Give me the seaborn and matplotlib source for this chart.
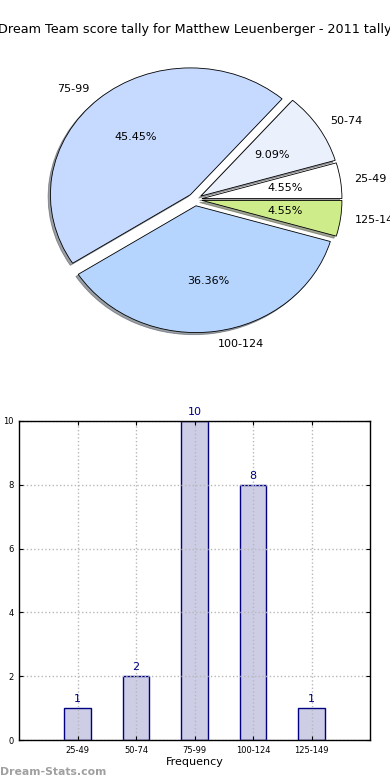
import matplotlib
matplotlib.use("Agg")
import matplotlib.pyplot as plt
import seaborn as sns
import pandas as pd

title = "Dream Team score tally for Matthew Leuenberger - 2011 tally"
categories = ["25-49", "50-74", "75-99", "100-124", "125-149"]
counts = [1, 2, 10, 8, 1]
pie_colors = ["#ffffff", "#eaf1fd", "#c6d9fe", "#b5d5fe", "#cfec8a"]
yticks = [0, 2, 4, 6, 8, 10]

sns.set_style("white")
plt.rcParams["font.family"] = ["DejaVu Sans"]
plt.rcParams["text.color"] = "black"
plt.rcParams["axes.labelcolor"] = "black"
plt.rcParams["xtick.color"] = "black"
plt.rcParams["ytick.color"] = "black"

fig = plt.figure(figsize=(3.9, 7.8), dpi=100)
fig.text(0.5, 1 - 30 / 780, title, ha="center", va="center", fontsize=9.2)

# Pie
axp = fig.add_axes([20 / 390, 1 - 358 / 780, 350 / 390, 317 / 780])
wedges, texts, autotexts = axp.pie(
    counts, labels=categories, colors=pie_colors, explode=[0.05] * 5,
    autopct="%.2f%%", shadow=dict(ox=-0.012, oy=-0.012, alpha=0.5),
    startangle=0, labeldistance=1.1,
    pctdistance=0.6, wedgeprops=dict(edgecolor="black", linewidth=0.6),
    textprops=dict(fontsize=8, color="black"))
axp.set_aspect("auto")
axp.set_xlim(-1.25, 1.25)
axp.set_ylim(-1.25, 1.25)

# Bars
axb = fig.add_axes([19 / 390, 40 / 780, 351 / 390, 319 / 780])
df = pd.DataFrame({"cat": categories, "count": counts})
sns.barplot(data=df, x="cat", y="count", ax=axb, width=0.45, color="#cdcde6",
            edgecolor="#000080", linewidth=1.0, saturation=1, errorbar=None)
axb.set_xlim(-1, 5)
axb.set_ylim(0, 10)
axb.set_yticks(yticks)
for i, c in enumerate(counts):
    axb.text(i, c + 0.12, str(c), ha="center", va="bottom", fontsize=8, color="#000080")
axb.grid(True, linestyle=":", color="#b8b8b8", linewidth=1.0)
axb.set_axisbelow(False)
for sp in axb.spines.values():
    sp.set_visible(True)
    sp.set_color("black")
    sp.set_linewidth(1.0)
    sp.set_zorder(5)
axb.tick_params(axis="both", labelsize=6, direction="in", length=3,
                right=True, top=True, left=True, bottom=True, pad=4)
axb.set_xlabel("Frequency", fontsize=8, labelpad=2)
axb.set_ylabel("Occurrences", fontsize=8, labelpad=12)

fig.text(0.0, 8 / 780, "Dream-Stats.com", ha="left", va="center", fontsize=7.8,
         color="#a0a0a0", fontweight="bold")

fig.savefig("out.png", dpi=100)
